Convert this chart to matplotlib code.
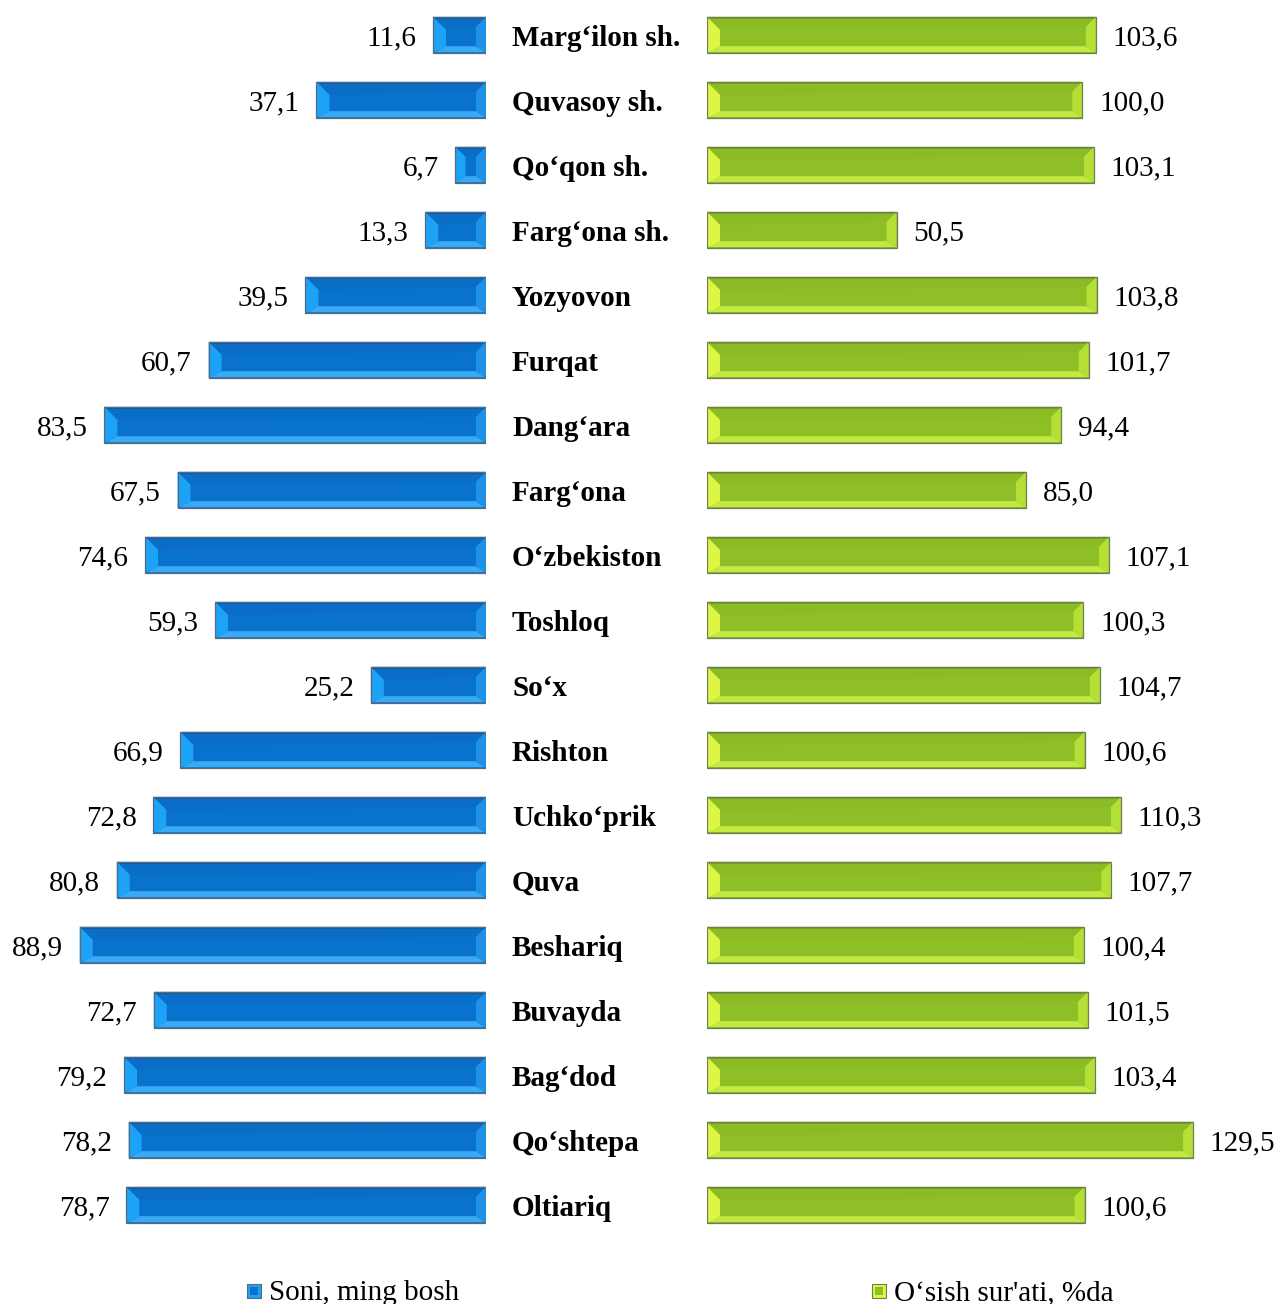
import matplotlib
matplotlib.use("Agg")
import matplotlib.pyplot as plt
from matplotlib.patches import Polygon, Rectangle
import matplotlib.transforms as mtransforms

plt.rcParams['font.family'] = ['Liberation Serif', 'DejaVu Serif']

categories = ["Marg‘ilon sh.", "Quvasoy sh.", "Qo‘qon sh.", "Farg‘ona sh.", "Yozyovon",
              "Furqat", "Dang‘ara", "Farg‘ona", "O‘zbekiston", "Toshloq", "So‘x",
              "Rishton", "Uchko‘prik", "Quva", "Beshariq", "Buvayda", "Bag‘dod",
              "Qo‘shtepa", "Oltiariq"]
soni = [11.6, 37.1, 6.7, 13.3, 39.5, 60.7, 83.5, 67.5, 74.6, 59.3, 25.2,
        66.9, 72.8, 80.8, 88.9, 72.7, 79.2, 78.2, 78.7]
osish = [103.6, 100.0, 103.1, 50.5, 103.8, 101.7, 94.4, 85.0, 107.1, 100.3, 104.7,
         100.6, 110.3, 107.7, 100.4, 101.5, 103.4, 129.5, 100.6]
legend_labels = ["Soni, ming bosh", "O‘sish sur'ati, %da"]

W, H = 1278, 1304
fig = plt.figure(figsize=(W / 100, H / 100), dpi=100)

n = len(categories)
row_px = 65.0
top_px = 2.5
ax_h = n * row_px
bottom_frac = (H - top_px - ax_h) / H
h_frac = ax_h / H

left_scale = 4.57   # px per unit
right_scale = 3.753

axL = fig.add_axes([0, bottom_frac, 486 / W, h_frac])
axR = fig.add_axes([707 / W, bottom_frac, (W - 707) / W, h_frac])
axL.set_xlim(486 / left_scale, 0)
axR.set_xlim(0, (W - 707) / right_scale)
for ax in (axL, axR):
    ax.set_ylim(n - 0.5, -0.5)
    ax.axis('off')

bar_h = 0.56
blue = dict(center='#0872CC', topface='#0A6EC6', topline='#0A5AA8', bottom='#3AAAF4',
            bline='#1C7CC8', left='#1CA2F6', right='#1E92E8', edge='#5A6A7A')
green = dict(center='#8EBF26', topface='#8BBB25', topline='#7AA21E', bottom='#C2EA42',
             bline='#8AB82A', left='#DDF545', right='#B4E036', edge='#6E7E50')


def poly(ax, pts, color, z=3):
    ax.add_patch(Polygon(pts, closed=True, facecolor=color, edgecolor='none', zorder=z))


def bevel_bar(ax, x0, x1, yc, h, col, scale):
    ax.barh([yc], [x1 - x0], left=[x0], height=h, color=col['center'],
            edgecolor='none', linewidth=0, zorder=2)
    xa, xb = min(x0, x1), max(x0, x1)
    if ax.xaxis_inverted():
        L, R, sgn = xb, xa, -1
    else:
        L, R, sgn = xa, xb, 1
    length_px = (xb - xa) * scale
    lw_px = min(13.0, length_px / 3)
    rw_px = min(10.0, length_px / 3)
    bl = lw_px / scale * sgn
    br = rw_px / scale * sgn
    yt, yb = yc - h / 2, yc + h / 2   # y inverted: yt visually top
    tl = lw_px / row_px   # depth of top face at left (45 deg)
    tr = rw_px / row_px
    bb = 7.0 / row_px
    # top face (subtle)
    poly(ax, [(L, yt), (R, yt), (R - br, yt + tr), (L + bl, yt + tl)], col['topface'])
    # thin top line
    poly(ax, [(L, yt), (R, yt), (R, yt + 2.0 / row_px), (L, yt + 2.0 / row_px)], col['topline'])
    # bottom strip
    poly(ax, [(L, yb), (R, yb), (R - br, yb - bb), (L + bl, yb - bb)], col['bottom'])
    # left face
    poly(ax, [(L, yt), (L + bl, yt + tl), (L + bl, yb - bb), (L, yb)], col['left'])
    # right face
    poly(ax, [(R, yt), (R - br, yt + tr), (R - br, yb - bb), (R, yb)], col['right'])
    # darker line at very bottom
    poly(ax, [(L, yb), (R, yb), (R, yb - 1.5 / row_px), (L, yb - 1.5 / row_px)], col['bline'])
    ax.add_patch(Rectangle((xa, yt), xb - xa, h, facecolor='none',
                           edgecolor=col['edge'], linewidth=0.9, zorder=4))


def fmt(v):
    return f"{v:.1f}".replace('.', ',')


fs = 21
dy = -2.5  # points, to move text slightly down
trans = mtransforms.blended_transform_factory(fig.transFigure, axL.transData)
for i, (c, a, b) in enumerate(zip(categories, soni, osish)):
    bevel_bar(axL, 0, a, i, bar_h, blue, left_scale)
    bevel_bar(axR, 0, b, i, bar_h, green, right_scale)
    axL.annotate(fmt(a), xy=(a, i), xytext=(-12, dy), textcoords='offset points',
                 ha='right', va='center', fontsize=fs, color='black')
    axR.annotate(fmt(b), xy=(b, i), xytext=(12, dy), textcoords='offset points',
                 ha='left', va='center', fontsize=fs, color='black')
    axL.annotate(c, xy=(512 / W, i), xycoords=trans, xytext=(0, dy), textcoords='offset points',
                 ha='left', va='center', fontsize=fs, fontweight='bold', color='black',
                 annotation_clip=False)

# legend
leg_y = (H - 1291) / H
for xm, xt, col, lab in [(247, 269, blue, legend_labels[0]), (872, 894, green, legend_labels[1])]:
    sz = 14
    fig.patches.append(Rectangle((xm / W, leg_y - (sz / 2) / H), sz / W, sz / H,
                                 transform=fig.transFigure, facecolor=col['left'],
                                 edgecolor=col['edge'], linewidth=0.8))
    fig.patches.append(Rectangle(((xm + 3) / W, leg_y - (sz / 2 - 3) / H), (sz - 6) / W, (sz - 6) / H,
                                 transform=fig.transFigure, facecolor=col['center'],
                                 edgecolor='none'))
    fig.text(xt / W, leg_y - 2 / H, lab, ha='left', va='center', fontsize=fs, color='black')

fig.savefig('out.png', dpi=100)
